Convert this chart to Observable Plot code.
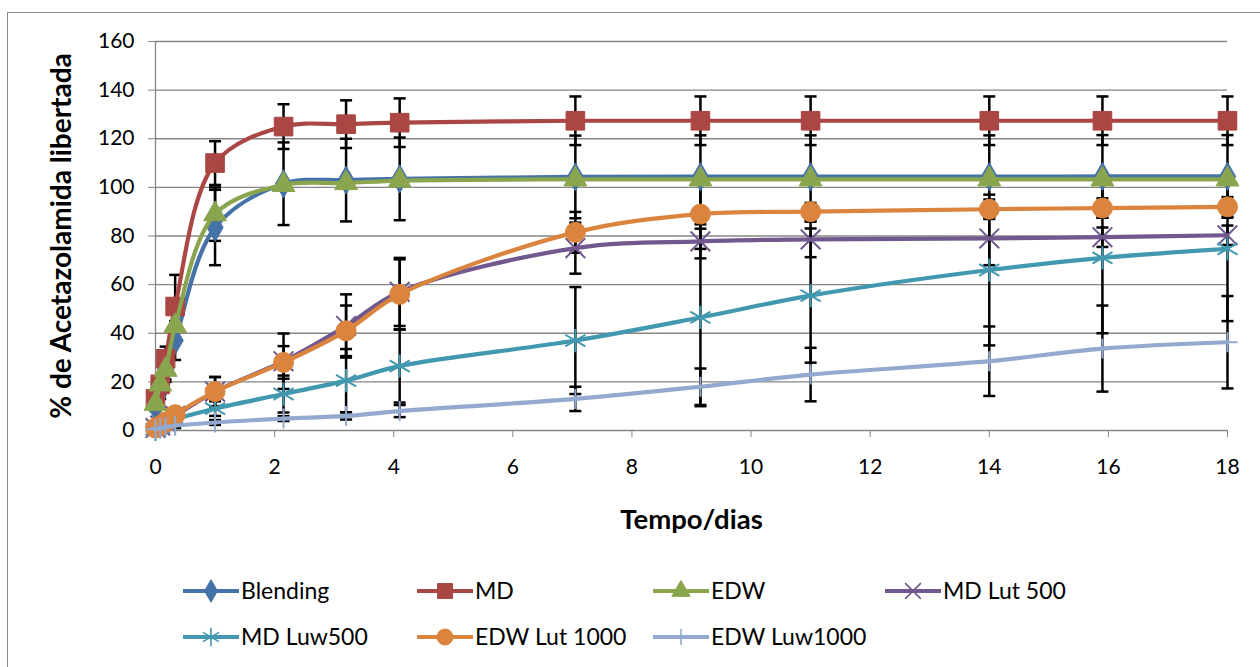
<!DOCTYPE html>
<html>
<head>
<meta charset="utf-8">
<script src="https://cdn.jsdelivr.net/npm/d3@7"></script>
<script src="https://cdn.jsdelivr.net/npm/@observablehq/plot@0.6"></script>
<style>
  html, body { margin: 0; padding: 0; background: #fff; overflow: hidden; }
  #wrap { position: relative; width: 1260px; height: 667px; overflow: hidden; font-family: Lato, "Open Sans", sans-serif; }
  #frame { position: absolute; left: 7px; top: 12px; width: 1300px; height: 700px; border: 1px solid #8c8c8c; box-sizing: border-box; pointer-events: none; }
  #chart svg, #legend svg { display: block; }
</style>
</head>
<body>
<div id="wrap">
  <div id="chart"></div>
  <div id="legend"></div>
  <div id="frame"></div>
</div>
<script>
// ---------- data ----------
const days = [0, 0.08, 0.17, 0.33, 1, 2.15, 3.2, 4.1, 7.05, 9.15, 11, 14, 15.9, 18];

const seriesNames = ["Blending", "MD", "EDW", "MD Lut 500", "MD Luw500", "EDW Lut 1000", "EDW Luw1000"];

const blending    = [10, 16, 25, 37, 83.5, 101.5, 103, 103.5, 104.3, 104.4, 104.4, 104.4, 104.5, 104.5];
const md          = [13, 19, 29.5, 51, 110, 125, 126, 126.6, 127.4, 127.4, 127.4, 127.4, 127.4, 127.4];
const edw         = [11, 19, 25, 43, 89, 101, 101.8, 102.8, 103.3, 103.3, 103.3, 103.3, 103.3, 103.3];
const mdLut500    = [1, 2, 3.5, 6, 16, 28.5, 43, 57, 75, 77.8, 78.6, 79, 79.5, 80.3];
const mdLuw500    = [0.5, 1.5, 2.5, 4.5, 9, 15, 20.5, 26.5, 37, 46.5, 55.5, 66, 71, 74.7];
const edwLut1000  = [1, 2, 3.5, 6.5, 16, 28, 41, 56, 81.5, 89, 90, 91, 91.5, 92];
const edwLuw1000  = [0.5, 1, 1.5, 2, 3.3, 4.9, 6, 8, 13, 18, 23, 28.5, 33.7, 36.3];

const blendingErr   = [2, 3, 5, 8, 15.5, 17, 17, 17, 17, 17, 17, 17, 17, 17];
const mdErr         = [2, 3, 5, 13, 9, 9.2, 9.8, 10, 10, 10, 10, 10, 10, 10];
const edwErr        = [2, 3, 4, 6, 11, 1.5, 1.5, 1.5, 1.5, 1.5, 1.5, 1.5, 1.5, 1.5];
const mdLut500Err   = [0.5, 1, 1.5, 2, 6, 11.4, 13, 14, 10.5, 7, 7.3, 11, 4, 4];
const mdLuw500Err   = [0.5, 1, 1.5, 2, 3, 7.6, 13, 15, 22, 36.5, 27.6, 31, 31, 29.7];
const edwLut1000Err = [0.5, 1, 1.5, 2, 6, 6.7, 10.4, 14.4, 8.4, 14.3, 3.6, 4, 4, 4];
const edwLuw1000Err = [0.3, 0.5, 0.5, 1, 1, 1, 1.5, 2.5, 5, 7.5, 11, 14.3, 17.7, 19];

const yTicks = [0, 20, 40, 60, 80, 100, 120, 140, 160];
const xTicks = [0, 2, 4, 6, 8, 10, 12, 14, 16, 18];

const yTitle = "% de Acetazolamida libertada";
const xTitle = "Tempo/dias";

// ---------- styles ----------
const values = [blending, md, edw, mdLut500, mdLuw500, edwLut1000, edwLuw1000];
const errors = [blendingErr, mdErr, edwErr, mdLut500Err, mdLuw500Err, edwLut1000Err, edwLuw1000Err];
const colors = ["#4572A7", "#AA4643", "#89A54E", "#71588F", "#4198AF", "#DB843D", "#93A9CF"];
const symbols = ["diamond", "square", "triangle", "times", "asterisk", "circle", "plus"];
const filled = [true, true, true, false, false, true, false];
const radii = [8.5, 10.5, 8.5, 9, 11, 10, 6.5];

const rows = [];
seriesNames.forEach((s, i) => {
  days.forEach((t, j) => rows.push({series: s, idx: i, t, v: values[i][j], e: errors[i][j]}));
});

const capSymbol = {
  draw(ctx, size) { const r = Math.sqrt(size / Math.PI); ctx.moveTo(-r, 0); ctx.lineTo(r, 0); }
};

const gray = "#868686";
const W = 1260, H = 560;
const font = "Lato, 'Open Sans', sans-serif";

const marks = [
  Plot.gridY(yTicks.filter(d => d > 0), {stroke: gray, strokeOpacity: 1, strokeWidth: 1.3}),
  Plot.ruleX([0], {stroke: gray, strokeWidth: 1.3}),
  Plot.ruleY([0], {stroke: gray, strokeWidth: 1.3}),
  Plot.axisY({ticks: yTicks, tickSize: 7, tickPadding: 14, stroke: gray, label: null, fill: "#000"}),
  Plot.axisX({ticks: xTicks, tickSize: 7, tickPadding: 22, stroke: gray, label: null, fill: "#000"}),
  Plot.text([yTitle], {frameAnchor: "left", dx: -93, rotate: -90, textAnchor: "middle", lineAnchor: "middle", fontWeight: "bold", fontSize: 28, fill: "#000"}),
  Plot.text([xTitle], {frameAnchor: "bottom", dy: 90, textAnchor: "middle", lineAnchor: "middle", fontWeight: "bold", fontSize: 27.5, fill: "#000"}),
  // error bars
  Plot.ruleX(rows, {x: "t", y1: d => d.v - d.e, y2: d => d.v + d.e, stroke: "#000", strokeWidth: 2.5}),
  Plot.dot(rows, {x: "t", y: d => d.v + d.e, symbol: capSymbol, r: 6, stroke: "#000", fill: "none", strokeWidth: 2.5}),
  Plot.dot(rows, {x: "t", y: d => d.v - d.e, symbol: capSymbol, r: 6, stroke: "#000", fill: "none", strokeWidth: 2.5})
];

seriesNames.forEach((s, i) => {
  const sub = rows.filter(d => d.idx === i);
  marks.push(Plot.line(sub, {x: "t", y: "v", stroke: colors[i], strokeWidth: 4.2, curve: "catmull-rom"}));
  marks.push(Plot.dot(sub, filled[i]
    ? {x: "t", y: "v", symbol: symbols[i], r: radii[i], fill: colors[i], stroke: colors[i], strokeWidth: 1}
    : {x: "t", y: "v", symbol: symbols[i], r: radii[i], fill: "none", stroke: colors[i], strokeWidth: 2}));
});

const chart = Plot.plot({
  width: W,
  height: H,
  marginLeft: 155,
  marginRight: 33,
  marginTop: 41,
  marginBottom: H - 430,
  x: {domain: [0, 18]},
  y: {domain: [0, 160]},
  style: {fontFamily: font, fontSize: "21px", color: "#000", background: "transparent", overflow: "visible"},
  marks
});
document.getElementById("chart").appendChild(chart);

// ---------- legend ----------
const legendH = 667 - H;
const lsvg = d3.select("#legend").append("svg").attr("width", W).attr("height", legendH)
  .style("font-family", font).style("font-size", "23px");
const colX = [183, 417, 653, 885];
const rowY = [591 - H, 637 - H];
const sampleLen = 56;
const d3Sym = {diamond: d3.symbolDiamond, square: d3.symbolSquare, triangle: d3.symbolTriangle,
  times: d3.symbolTimes, asterisk: d3.symbolAsterisk, circle: d3.symbolCircle, plus: d3.symbolPlus};
seriesNames.forEach((s, i) => {
  const col = i < 4 ? i : i - 4;
  const row = i < 4 ? 0 : 1;
  const g = lsvg.append("g").attr("transform", `translate(${colX[col]},${rowY[row]})`);
  g.append("line").attr("x1", 0).attr("x2", sampleLen).attr("y1", 0).attr("y2", 0)
    .attr("stroke", colors[i]).attr("stroke-width", 4.2);
  const lr = radii[i] * 0.8;
  const size = Math.PI * lr * lr;
  g.append("path").attr("transform", `translate(${sampleLen / 2},0)`)
    .attr("d", d3.symbol(d3Sym[symbols[i]], size)())
    .attr("fill", filled[i] ? colors[i] : "none")
    .attr("stroke", colors[i]).attr("stroke-width", filled[i] ? 1 : 1.6);
  g.append("text").attr("x", sampleLen + 2).attr("y", 0).attr("dy", "0.35em").attr("fill", "#000").text(s);
});
</script>
</body>
</html>
